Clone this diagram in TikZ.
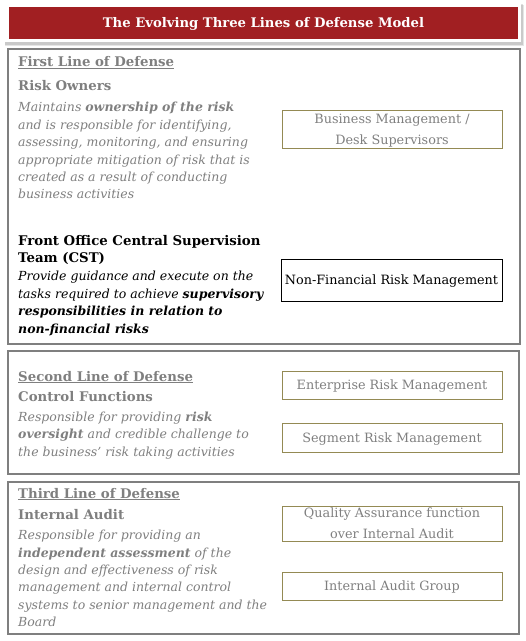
\documentclass[tikz,border=0pt]{standalone}
\usepackage{fontspec}
\setmainfont{DejaVu Serif}
\usetikzlibrary{decorations.pathmorphing}
\definecolor{titlered}{HTML}{A11F22}
\definecolor{txtgray}{HTML}{7F7F7F}
\definecolor{boxgray}{HTML}{7F7F7F}
\definecolor{tanline}{HTML}{948A54}
\definecolor{spellred}{HTML}{E8332B}
\newcommand\myBody{\fontsize{12.5}{14}\selectfont}
\newcommand\myRole{\fontsize{12.8}{14}\selectfont}
\newcommand\myHdr{\fontsize{13.3}{15}\selectfont\bfseries}
\newcommand\myTitle{\fontsize{13.2}{15}\selectfont\bfseries}
\newlength\defw
\begin{document}
\begin{tikzpicture}[x=1pt,y=-1pt,
  sectionbox/.style={draw=boxgray, line width=1.3pt},
  rolebox/.style={draw=tanline, line width=1pt, text=txtgray, align=center,
    font=\myRole, minimum width=220pt, inner sep=0pt, text depth=0pt},
  hdr/.style={anchor=base west, inner sep=0pt, text=txtgray, font=\myHdr},
  txt/.style={anchor=base west, inner sep=0pt, text=txtgray, font=\myBody\itshape},
  squig/.style={draw=spellred, line width=0.5pt, decorate,
    decoration={snake, amplitude=0.7pt, segment length=2.5pt}}
]
\useasboundingbox (0,0) rectangle (526,641);
% title banner
\fill[black, opacity=0.10] (5,5) rectangle (524,46);
\fill[black, opacity=0.12] (5,4) rectangle (523,44.5);
\fill[white] (4,3) rectangle (521,42);
\fill[titlered] (9,7) rectangle (518,39);
\node[anchor=base, inner sep=0pt, text=white, font=\myTitle] (title) at (263.5,27.5)
  {The Evolving Three Lines of Defense Model};

% section frames
\draw[sectionbox] (8,49) rectangle (520,344);
\draw[sectionbox] (8,351) rectangle (519,474);
\draw[sectionbox] (8,482) rectangle (519,634);

\settowidth\defw{\myHdr Defense}

% ---- First line of defense
\node[hdr] (h1) at (18,66.5) {\underline{First Line of Defense}};
\draw[squig] ([xshift=-\defw, yshift=-3.5pt]h1.base east) -- ([yshift=-3.5pt]h1.base east);
\node[hdr] (r1) at (18,90.5) {Risk Owners};
\node[txt] (p1a) at (18,111.5) {Maintains \textbf{ownership of the risk}};
\node[txt] (p1b) at (18,129) {and is responsible for identifying,};
\node[txt] (p1c) at (18,146.5) {assessing, monitoring, and ensuring};
\node[txt] (p1d) at (18,164) {appropriate mitigation of risk that is};
\node[txt] (p1e) at (18,181) {created as a result of conducting};
\node[txt] (p1f) at (18,198) {business activities};

\node[hdr, text=black] (c1) at (18,245.5) {Front Office Central Supervision};
\node[hdr, text=black] (c2) at (18,262.5) {Team (CST)};
\node[txt, text=black] (q1a) at (18,280.5) {Provide guidance and execute on the};
\node[txt, text=black] (q1b) at (18,298) {tasks required to achieve \textbf{supervisory}};
\node[txt, text=black] (q1c) at (18,315.5) {\textbf{responsibilities in relation to}};
\node[txt, text=black] (q1d) at (18,333) {\textbf{non-financial risks}};

\node[rolebox, minimum height=38pt, text depth=-3pt] (bm) at (392,129)
  {Business Management /\\[7pt]Desk Supervisors};
\node[rolebox, draw=black, text=black, minimum width=221pt, minimum height=42pt] (nfrm) at (391.5,280)
  {Non-Financial Risk Management};

% ---- Second line of defense
\node[hdr] (h2) at (18,381) {\underline{Second Line of Defense}};
\draw[squig] ([xshift=-\defw, yshift=-3.5pt]h2.base east) -- ([yshift=-3.5pt]h2.base east);
\node[hdr] (r2) at (18,401.5) {Control Functions};
\node[txt] (p2a) at (18,421) {Responsible for providing \textbf{risk}};
\node[txt] (p2b) at (18,438.5) {\textbf{oversight} and credible challenge to};
\node[txt] (p2c) at (18,456.5) {the business’ risk taking activities};

\node[rolebox, minimum height=28pt] (erm) at (392,385) {Enterprise Risk Management};
\node[rolebox, minimum height=29pt] (srm) at (392,437.5) {Segment Risk Management};

% ---- Third line of defense
\node[hdr] (h3) at (18,498) {\underline{Third Line of Defense}};
\draw[squig] ([xshift=-\defw, yshift=-3.5pt]h3.base east) -- ([yshift=-3.5pt]h3.base east);
\node[hdr] (r3) at (18,519.5) {Internal Audit};
\node[txt] (p3a) at (18,539.5) {Responsible for providing an};
\node[txt] (p3b) at (18,557) {\textbf{independent assessment} of the};
\node[txt] (p3c) at (18,574.5) {design and effectiveness of risk};
\node[txt] (p3d) at (18,591.5) {management and internal control};
\node[txt] (p3e) at (18,609) {systems to senior management and the};
\node[txt] (p3f) at (18,626) {Board};

\node[rolebox, minimum height=35pt] (qa) at (392,523.5)
  {Quality Assurance function\\[7pt]over Internal Audit};
\node[rolebox, minimum height=28pt] (iag) at (392,586) {Internal Audit Group};
\end{tikzpicture}
\end{document}
